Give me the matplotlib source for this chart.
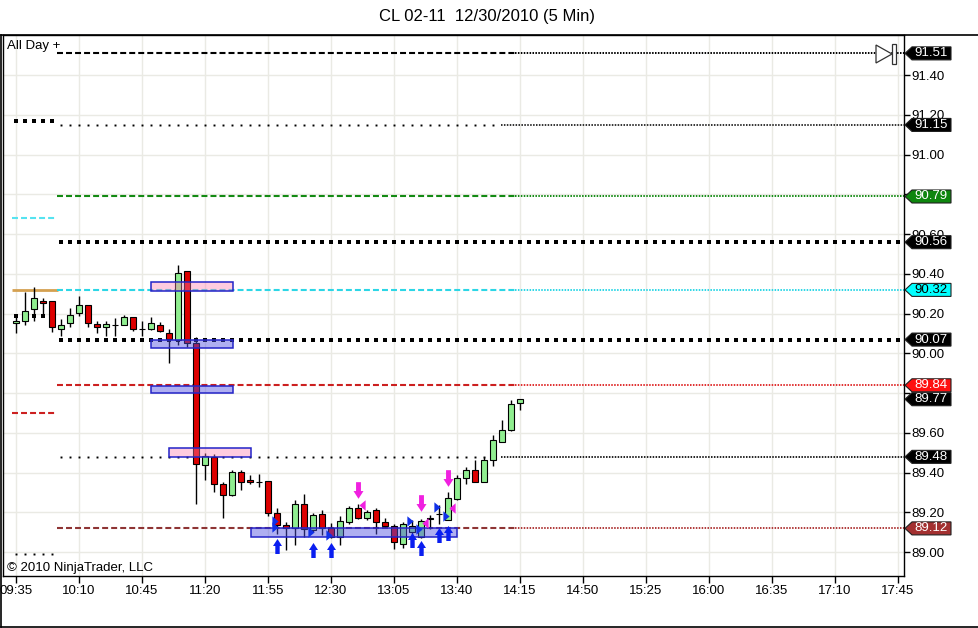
import numpy as np
import matplotlib.pyplot as plt
from matplotlib.path import Path
from matplotlib.patches import Polygon, Rectangle
from matplotlib.lines import Line2D
import matplotlib.transforms as mtransforms

plt.rcParams['font.family'] = ['Liberation Sans', 'DejaVu Sans']
plt.rcParams['lines.scale_dashes'] = False

W, H = 979, 628

# 5 min bars, index 0 = 09:35
opens = [90.154, 90.166, 90.225, 90.266, 90.266, 90.124, 90.154, 90.204, 90.245, 90.146,
         90.132, 90.144, 90.144, 90.186, 90.124, 90.124, 90.144, 90.104, 90.070, 90.416,
         90.054, 89.437, 89.479, 89.345, 89.286, 89.405, 89.365, 89.353, 89.357, 89.197,
         89.136, 89.124, 89.245, 89.111, 89.194, 89.124, 89.077, 89.152, 89.225, 89.174,
         89.214, 89.152, 89.132, 89.044, 89.100, 89.077, 89.165, 89.190, 89.164, 89.270,
         89.375, 89.416, 89.353, 89.466, 89.554, 89.613, 89.750]
highs = [90.182, 90.310, 90.337, 90.278, 90.266, 90.174, 90.228, 90.288, 90.245, 90.162,
         90.166, 90.177, 90.194, 90.186, 90.166, 90.186, 90.157, 90.124, 90.446, 90.416,
         90.082, 89.499, 89.496, 89.353, 89.416, 89.416, 89.387, 89.395, 89.357, 89.225,
         89.151, 89.265, 89.295, 89.197, 89.211, 89.147, 89.182, 89.231, 89.245, 89.211,
         89.225, 89.174, 89.141, 89.152, 89.160, 89.166, 89.186, 89.240, 89.303, 89.387,
         89.429, 89.466, 89.479, 89.588, 89.667, 89.767, 89.770]
lows = [90.104, 90.144, 90.166, 90.186, 90.110, 90.090, 90.132, 90.191, 90.132, 90.104,
        90.090, 90.090, 90.141, 90.114, 90.090, 90.120, 90.110, 89.953, 90.044, 90.032,
        89.245, 89.365, 89.303, 89.174, 89.283, 89.315, 89.342, 89.328, 89.180, 89.090,
        89.010, 89.035, 89.077, 89.102, 89.085, 89.070, 89.035, 89.144, 89.169, 89.161,
        89.090, 89.127, 89.014, 89.019, 89.080, 89.070, 89.119, 89.140, 89.160, 89.265,
        89.345, 89.353, 89.353, 89.432, 89.554, 89.610, 89.714]
closes = [90.166, 90.216, 90.278, 90.255, 90.132, 90.144, 90.194, 90.245, 90.154, 90.132,
          90.146, 90.144, 90.186, 90.124, 90.124, 90.154, 90.114, 90.074, 90.406, 90.054,
          89.446, 89.482, 89.345, 89.286, 89.405, 89.353, 89.353, 89.353, 89.195, 89.136,
          89.124, 89.245, 89.119, 89.186, 89.124, 89.077, 89.156, 89.225, 89.172, 89.203,
          89.152, 89.132, 89.052, 89.144, 89.130, 89.156, 89.174, 89.190, 89.275, 89.375,
          89.416, 89.353, 89.466, 89.566, 89.616, 89.747, 89.770]

time_labels = ['09:35', '10:10', '10:45', '11:20', '11:55', '12:30', '13:05', '13:40',
               '14:15', '14:50', '15:25', '16:00', '16:35', '17:10', '17:45']
price_ticks = [89.00, 89.20, 89.40, 89.60, 89.80, 90.00, 90.20, 90.40, 90.60, 90.80,
               91.00, 91.20, 91.40]
# labels fully covered by price tags in the chart stay blank
price_tick_labels = ['89.00', '89.20', '89.40', '89.60', '', '90.00', '90.20', '90.40',
                     '90.60', '', '91.00', '91.20', '91.40']

# today's levels
levels = [91.51, 91.15, 90.79, 90.56, 90.32, 90.07, 89.84, 89.48, 89.12]
# prior levels shown at the left
prior_levels = [91.17, 90.68, 90.32, 90.19, 89.70, 88.99]

# zones
zone_left = [15.0, 15.0, 15.0, 17.0, 26.1]
zone_right = [24.1, 24.1, 24.1, 26.1, 49.0]
zone_top = [90.360, 90.068, 89.836, 89.525, 89.122]
zone_bottom = [90.314, 90.028, 89.801, 89.479, 89.077]
zone_kind = ['supply', 'demand', 'demand', 'supply', 'demand']

# trade markers
long_arrow_bars = [29, 33, 35, 44, 45, 47, 48]
long_arrow_prices = [89.030, 89.010, 89.010, 89.063, 89.023, 89.088, 89.098]
long_fill_bars = [29, 29, 33, 35, 44, 45, 47, 48]
long_fill_prices = [89.155, 89.125, 89.103, 89.085, 89.156, 89.118, 89.226, 89.183]
short_arrow_bars = [38, 45, 48]
short_arrow_prices = [89.314, 89.246, 89.374]
short_fill_bars = [38, 45, 48]
short_fill_prices = [89.239, 89.148, 89.221]

# styles
level_kind = ['dash', 'sparse', 'dash', 'thick', 'dash', 'thick', 'dash', 'sparse', 'dash']
level_color = ['black', 'black', '#138A13', 'black', '#2CD6E6', 'black', '#CC2020', 'black', '#8E3434']
ext_color = ['black', '#333333', '#138A13', 'black', '#2CD6E6', 'black', '#E03030', '#222222', '#B03A3A']
tag_fill = ['black', 'black', '#0E860E', 'black', '#00FFFF', 'black', '#FF1010', 'black', '#A33030']
tag_text = ['white', 'white', 'white', 'white', 'black', 'white', 'white', 'white', 'white']
prior_kind = ['thick', 'dash', 'solid', 'thick', 'dash', 'sparse']
prior_color = ['black', '#55E3F0', '#D4A050', 'black', '#CC2020', 'black']

up_col = '#90EE90'
down_col = '#DD0000'

xmin, xmax = -1.444, 98.667
ymin, ymax = 88.8805, 91.6025

fig = plt.figure(figsize=(W / 100, H / 100), dpi=100)
ax = fig.add_axes([3 / W, 52 / H, 901 / W, 541 / H])
ax.set_xlim(xmin, xmax)
ax.set_ylim(ymin, ymax)

# grid
tick_bars = np.arange(0, 99, 7)
for b in tick_bars:
    ax.axvline(b, color='#EAEAE4', lw=1, zorder=0)
for p in price_ticks:
    ax.axhline(p, color='#EAEAE4', lw=1, zorder=0)


def dash_line(y, x0, x1, color, lw=1.5):
    ax.plot([x0, x1], [y, y], color=color, lw=lw, ls=(0, (4.3, 2.2)), zorder=2)


def dense_line(y, x0, x1, color):
    ax.plot([x0, x1], [y, y], color=color, lw=1.4, ls=(0, (1.1, 1.0)), zorder=2)


def dots(y, b0, b1, color, size):
    xs = np.arange(b0, b1 + 1)
    ax.plot(xs, [y] * len(xs), 's', ms=size, color=color, mew=0, zorder=2)


# prior levels (left part)
for y, kind, col in zip(prior_levels, prior_kind, prior_color):
    if kind == 'dash':
        dash_line(y, -0.4, 4.4, col)
    elif kind == 'solid':
        ax.plot([-0.4, 4.7], [y, y], color=col, lw=2.0, zorder=2, solid_capstyle='butt')
    elif kind == 'thick':
        dots(y, 0, 4, col, 2.9)
    else:
        dots(y, 0, 4, col, 1.4)

# today's levels
for y, kind, col, ecol in zip(levels, level_kind, level_color, ext_color):
    if kind == 'dash':
        dash_line(y, 4.6, 55.5, col)
        dense_line(y, 55.5, xmax, ecol)
    elif kind == 'thick':
        dots(y, 5, 98, col, 2.9)
    else:
        dots(y, 5, 53, col, 1.4)
        dense_line(y, 53.9, xmax, ecol)

# candles
bars = np.arange(len(opens))
o = np.array(opens)
c = np.array(closes)
colors = [up_col if cc >= oo else down_col for oo, cc in zip(o, c)]
ax.vlines(bars, lows, highs, color='black', lw=1, zorder=3)
ax.bar(bars, np.abs(c - o), bottom=np.minimum(o, c), width=0.6, color=colors,
       edgecolor='black', lw=0.8, zorder=3.2)

# zones
for l, r, t, b, k in zip(zone_left, zone_right, zone_top, zone_bottom, zone_kind):
    fc = (1.0, 0.5, 0.69, 0.4) if k == 'supply' else (0.31, 0.31, 0.88, 0.45)
    ax.add_patch(Rectangle((l, b), r - l, t - b, facecolor=fc, edgecolor='#2323C8',
                           lw=1.1, zorder=4))

# markers
up_arrow = Path([(0, 7.5), (4.5, 0.5), (2.2, 0.5), (2.2, -7.5), (-2.2, -7.5), (-2.2, 0.5),
                 (-4.5, 0.5), (0, 7.5)], closed=True)
down_arrow = Path([(x, -y) for x, y in up_arrow.vertices], closed=True)
right_tri = Path([(-3, -5), (3, 0), (-3, 5), (-3, -5)], closed=True)
left_tri = Path([(3, -5), (-3, 0), (3, 5), (3, -5)], closed=True)

ax.plot(long_arrow_bars, long_arrow_prices, ls='none', marker=up_arrow, ms=10.8,
        color='#0A1EF0', mew=0, zorder=5)
ax.plot(np.array(long_fill_bars) - 0.25, long_fill_prices, ls='none', marker=right_tri,
        ms=7.5, color='#1030E8', mew=0, zorder=5)
ax.plot(short_arrow_bars, short_arrow_prices, ls='none', marker=down_arrow, ms=12,
        color='#F020E0', mew=0, zorder=5)
ax.plot(np.array(short_fill_bars) + 0.45, short_fill_prices, ls='none', marker=left_tri,
        ms=7.5, color='#F020E0', mew=0, zorder=5)

# axes styling
ax.yaxis.tick_right()
ax.set_yticks(price_ticks)
ax.set_yticklabels(price_tick_labels)
ax.set_xticks(tick_bars)
ax.set_xticklabels(time_labels)
ax.tick_params(axis='y', length=4, width=1, pad=1.5, labelsize=9.5, colors='black')
ax.tick_params(axis='x', length=5, width=1, pad=1.5, labelsize=9.5, colors='black')
for s in ax.spines.values():
    s.set_color('black')
    s.set_linewidth(1)

# price tags on the right axis
tf = mtransforms.blended_transform_factory(fig.transFigure, ax.transData)
hh = 6.5 / 198.75


def tag(price, fill, tcol):
    pts = [(905 / W, price), (912 / W, price + hh), (951 / W, price + hh),
           (951 / W, price - hh), (912 / W, price - hh)]
    ax.add_patch(Polygon(pts, closed=True, transform=tf, facecolor=fill,
                         edgecolor='#202020', lw=0.8, clip_on=False, zorder=10))
    ax.text(931 / W, price, '%.2f' % price, transform=tf, ha='center', va='center',
            fontsize=9.5, color=tcol, clip_on=False, zorder=11)


for p, f, t in zip(levels, tag_fill, tag_text):
    tag(p, f, t)
tag(closes[-1], 'black', 'white')


# scroll-to-end icon
def fx(px):
    return px / W


def fy(py):
    return 1 - py / H


fig.patches.append(Polygon([(fx(876), fy(45)), (fx(892), fy(54)), (fx(876), fy(63))],
                           closed=True, transform=fig.transFigure, facecolor='white',
                           edgecolor='#333333', lw=0.9, zorder=12))
fig.patches.append(Rectangle((fx(892), fy(64)), 4 / W, 20 / H, transform=fig.transFigure,
                             facecolor='white', edgecolor='#333333', lw=0.9, zorder=12))

# outer frame
fig.add_artist(Line2D([fx(1.5), fx(1.5)], [fy(35), fy(627)], color='black', lw=1.2))
fig.add_artist(Line2D([fx(1.5), 1], [fy(35), fy(35)], color='black', lw=1.2))
fig.add_artist(Line2D([fx(1.5), 1], [fy(627), fy(627)], color='black', lw=1.2))

# texts
fig.text(fx(487), fy(17), 'CL 02-11  12/30/2010 (5 Min)', ha='center', va='center', fontsize=12)
fig.text(fx(7), fy(46), 'All Day +', ha='left', va='center', fontsize=9.5)
fig.text(fx(7), fy(568), '\u00a9 2010 NinjaTrader, LLC', ha='left', va='center', fontsize=9.5)

fig.savefig('out.png', dpi=100)
